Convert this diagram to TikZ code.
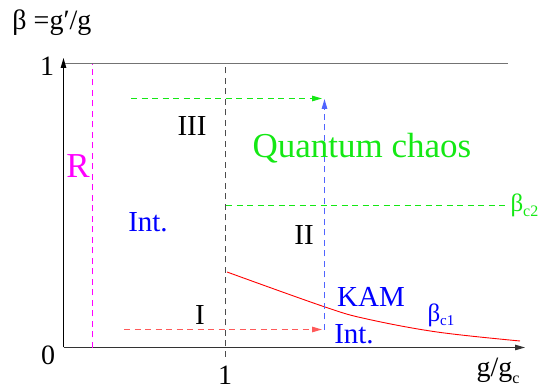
\documentclass[tikz,border=0pt]{standalone}
\usepackage{fontspec}
\setmainfont{Liberation Serif}
\usetikzlibrary{arrows.meta}
\definecolor{chaosgreen}{RGB}{20,232,20}
\definecolor{intblue}{RGB}{0,0,255}
\definecolor{regmagenta}{RGB}{255,0,255}
\definecolor{pathblue}{RGB}{80,100,255}
\definecolor{pathred}{RGB}{255,90,90}
\newcommand{\lowtext}[3]{\raisebox{-#1}{\fontsize{#2}{#2}\selectfont #3}}

\begin{document}
\begin{tikzpicture}[x=1pt, y=1pt, line width=1pt, >={Triangle[length=10pt,width=5.5pt]},
    lbl/.style={inner sep=0pt, anchor=base, font=\fontsize{29}{29}\selectfont},
    big/.style={lbl, font=\fontsize{35}{35}\selectfont},
    crit/.style={inner sep=0pt, anchor=base west, font=\fontsize{25}{25}\selectfont},
    guide/.style={line width=1.2pt, dash pattern=on 6pt off 4.5pt}]
  \useasboundingbox (-63,-42) rectangle (483,348);
  % ================================================================ axes
  \coordinate (o) at (0.5,0.5);
  \coordinate (ytop) at (0.5,290);
  \coordinate (xend) at (462,0.5);
  \coordinate (tl) at (2,284.5);
  \coordinate (tr) at (445,284.5);
  \draw[->] (o) -- (ytop);
  \draw[->, black!80] (o) -- (xend);
  \draw[black!55, line width=1.5pt] (tl) -- (tr);
  \node[lbl, anchor=base west, font=\fontsize{28}{28}\selectfont] (ylab) at (-51,318) {β =g′/g};
  \node[lbl, font=\fontsize{28}{28}\selectfont] (one-y) at (-16,272) {1};
  \node[lbl, font=\fontsize{28}{28}\selectfont] (zero) at (-15,-17) {0};
  \node[lbl, font=\fontsize{28}{28}\selectfont] (one-x) at (162,-37) {1};
  \node[lbl, anchor=base west, font=\fontsize{28}{28}\selectfont] (xlab) at (413,-29) {g/g\lowtext{7pt}{16}{c}};
  % ================================================================ boundaries
  \coordinate (rtop) at (29.5,284);
  \coordinate (rbot) at (29.5,0);
  \draw[regmagenta, guide] (rbot) -- (rtop);
  \coordinate (gctop) at (162.5,282);
  \coordinate (gcbot) at (162.5,-9);
  \draw[black!70, guide] (gcbot) -- (gctop);
  \coordinate (c2a) at (163,142.5);
  \coordinate (c2b) at (444,142.5);
  \draw[chaosgreen, guide] (c2a) -- (c2b);
  \draw[red, line width=0.9pt] plot[smooth, tension=0.6] coordinates {(164,76) (262,41) (304,29) (374,16) (457,7)};
  % ================================================================ paths I, II, III
  \coordinate (p1a) at (61,18.5);
  \coordinate (p1b) at (259,18.5);
  \draw[->, pathred, guide] (p1a) -- (p1b);
  \coordinate (p2a) at (261.5,18);
  \coordinate (p2b) at (261.5,249);
  \draw[->, pathblue, guide] (p2a) -- (p2b);
  \coordinate (p3a) at (68,249.5);
  \coordinate (p3b) at (259,249.5);
  \draw[->, chaosgreen, guide] (p3a) -- (p3b);
  % ================================================================ labels
  \node[lbl] (lab-III) at (129,212) {III};
  \node[lbl] (lab-II) at (241,103) {II};
  \node[lbl] (lab-I) at (137,23) {I};
  \node[big, chaosgreen] (chaos) at (299,190) {Quantum chaos};
  \node[big, regmagenta] (lab-R) at (15,170) {R};
  \node[lbl, intblue] (int-left) at (85,116) {Int.};
  \node[lbl, intblue] (kam) at (308,41) {KAM};
  \node[lbl, intblue] (int-right) at (291,4) {Int.};
  \node[crit, chaosgreen] (beta-c2) at (447,136) {β\lowtext{5pt}{16}{c2}};
  \node[crit, intblue] (beta-c1) at (364,26) {β\lowtext{4pt}{15}{c1}};
\end{tikzpicture}
\end{document}
